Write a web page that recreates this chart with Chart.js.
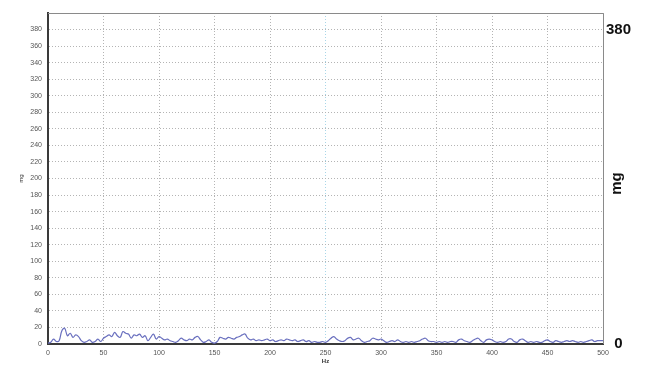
<!DOCTYPE html>
<html>
<head>
<meta charset="utf-8">
<script src="https://cdn.jsdelivr.net/npm/chart.js@4/dist/chart.umd.min.js"></script>
<style>
  html, body { margin: 0; padding: 0; background: #fff; }
  #wrap { width: 650px; height: 368px; position: relative; }
</style>
</head>
<body>
<div id="wrap"><canvas id="spectrum"></canvas></div>
<script>
// frequency step (Hz) between samples, 0..500
const hzStep = 2.5
// amplitude in mg
const amplitude = [
  1, 2, 6, 3, 4, 16, 19, 10, 13, 8, 11, 9, 4, 2, 3, 5, 2, 3, 6, 3,
  7, 9, 11, 9, 14, 10, 8, 15, 13, 12, 7, 11, 10, 12, 8, 10, 4, 8, 12, 6,
  9, 7, 5, 6, 4, 3, 2, 4, 7, 5, 4, 6, 5, 8, 9, 5, 2, 3, 5, 2,
  1, 3, 8, 7, 6, 8, 7, 6, 8, 9, 11, 12, 7, 5, 6, 4, 5, 4, 5, 6,
  4, 5, 3, 4, 5, 4, 6, 5, 4, 5, 3, 4, 5, 3, 4, 2, 3, 2, 2, 3,
  2, 4, 7, 9, 6, 4, 3, 4, 7, 8, 5, 6, 7, 4, 2, 3, 4, 7, 6, 5,
  6, 4, 2, 3, 4, 3, 5, 3, 2, 3, 2, 3, 2, 3, 4, 6, 7, 4, 3, 3,
  2, 3, 2, 3, 2, 3, 3, 2, 5, 6, 4, 3, 2, 4, 6, 7, 4, 2, 5, 6,
  5, 3, 2, 3, 2, 3, 6, 6, 3, 2, 5, 6, 4, 2, 3, 2, 3, 2, 2, 4,
  5, 3, 2, 4, 3, 2, 3, 4, 3, 4, 3, 2, 3, 2, 3, 4, 5, 3, 4, 4,
  4
]
const rightTicks = [0, 380]
const xTitle = "Hz"
const yTitle = "mg"

const points = amplitude.map((v, i) => ({ x: i * hzStep, y: v }))

// top + right frame, big "mg" on the right
const framePlugin = {
  id: "frame",
  beforeDatasetsDraw(chart) {
    const { ctx, chartArea } = chart
    ctx.save()
    ctx.strokeStyle = "#8a8a8a"
    ctx.lineWidth = 1
    ctx.beginPath()
    ctx.moveTo(chartArea.left, chartArea.top + 0.5)
    ctx.lineTo(chartArea.right + 0.5, chartArea.top + 0.5)
    ctx.lineTo(chartArea.right + 0.5, chartArea.bottom)
    ctx.stroke()
    ctx.restore()
  },
  afterDraw(chart) {
    const { ctx, chartArea } = chart
    ctx.save()
    ctx.translate(617, (chartArea.top + chartArea.bottom) / 2 + 5)
    ctx.rotate(-Math.PI / 2)
    ctx.font = "bold 15px 'Liberation Sans', Arial, sans-serif"
    ctx.fillStyle = "#111"
    ctx.textAlign = "center"
    ctx.textBaseline = "middle"
    ctx.fillText(yTitle, 0, 0)
    ctx.restore()
  },
}

const ctx = document.getElementById("spectrum").getContext("2d")
const chart = new Chart(ctx, {
  type: "line",
  data: {
    datasets: [
      {
        label: "amplitude",
        data: points,
        borderColor: "#6a70bf",
        borderWidth: 1.2,
        pointRadius: 0,
        tension: 0.4,
        fill: false,
        yAxisID: "y",
      },
    ],
  },
  options: {
    responsive: true,
    maintainAspectRatio: false,
    animation: false,
    layout: { padding: { top: 13, bottom: 3, left: 0, right: 0 } },
    plugins: {
      legend: { display: false },
      tooltip: { enabled: false },
    },
    scales: {
      x: {
        type: "linear",
        min: 0,
        max: 500,
        ticks: {
          stepSize: 50,
          padding: 5,
          maxRotation: 0,
          color: "#555",
          font: { family: "'Liberation Sans', Arial, sans-serif", size: 7 },
        },
        grid: {
          drawTicks: false,
          color: (c) => (c.tick && c.tick.value === 250 ? "#a9d6e8" : "#b4b4b4"),
        },
        border: { color: "#3a3a3a", width: 2, dash: [1, 2] },
        title: {
          display: true,
          text: xTitle,
          color: "#333",
          padding: { top: 0, bottom: 0 },
          font: { family: "'Liberation Sans', Arial, sans-serif", size: 6, weight: "bold" },
        },
        afterFit: (scale) => { scale.height = 21 },
      },
      y: {
        min: 0,
        max: 400,
        ticks: {
          stepSize: 20,
          padding: 6,
          color: "#555",
          font: { family: "'Liberation Sans', Arial, sans-serif", size: 7 },
          callback: (v) => (v === 400 ? "" : v),
        },
        grid: {
          drawTicks: false,
          color: "#b4b4b4",
        },
        border: { color: "#3a3a3a", width: 2, dash: [1, 2] },
        title: {
          display: true,
          text: yTitle,
          color: "#333",
          padding: { top: 18, bottom: 0 },
          font: { family: "'Liberation Sans', Arial, sans-serif", size: 6 },
        },
        afterFit: (scale) => { scale.width = 48 },
      },
      y2: {
        position: "right",
        min: 0,
        max: 400,
        afterBuildTicks: (scale) => {
          scale.ticks = rightTicks.map((v) => ({ value: v }))
        },
        ticks: {
          padding: 3,
          crossAlign: "center",
          color: "#111",
          font: { family: "'Liberation Sans', Arial, sans-serif", size: 15, weight: "bold" },
        },
        grid: { display: false, drawTicks: false },
        border: { display: false },
        afterFit: (scale) => { scale.width = 47 },
      },
    },
  },
  plugins: [framePlugin],
})
</script>
</body>
</html>
